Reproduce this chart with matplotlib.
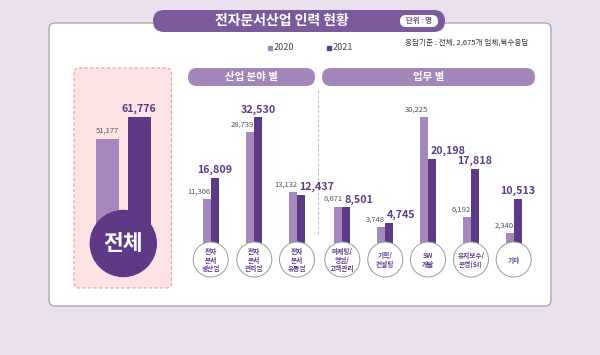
import matplotlib
matplotlib.use('Agg')
import matplotlib.pyplot as plt
from matplotlib.patches import FancyBboxPatch, Circle, Rectangle

plt.rcParams['font.family'] = ['Noto Sans CJK KR', 'DejaVu Sans']

# data
total_2020 = 51177
total_2021 = 61776

ind_labels = ['전자\n문서\n생산업', '전자\n문서\n관리업', '전자\n문서\n유통업']
ind_2020 = [11306, 28739, 13132]
ind_2021 = [16809, 32530, 12437]

job_labels = ['마케팅/\n영업/\n고객관리', '기획/\n컨설팅', 'SW\n개발', '유지보수/\n운영(SI)', '기타']
job_2020 = [8671, 3748, 30225, 6192, 2340]
job_2021 = [8501, 4745, 20198, 17818, 10513]

DARK = '#5e3a86'
LIGHT = '#a487bd'
PILL = '#a386ba'
W, H = 600, 355

fig = plt.figure(figsize=(6, 3.55), dpi=100, facecolor='#ebe0ee')


def px_axes(x0, y0, x1, y1, z=1):
    ax = fig.add_axes([x0 / W, 1 - y1 / H, (x1 - x0) / W, (y1 - y0) / H], zorder=z)
    ax.set_facecolor('none')
    ax.axis('off')
    return ax


def pill(ax, x0, y0, x1, y1, color, r, **kw):
    ax.add_patch(FancyBboxPatch((x0, y0), x1 - x0, y1 - y0,
                                boxstyle='round,pad=0,rounding_size=%g' % r,
                                facecolor=color, **kw))


# background layer, in pixels
bg = px_axes(0, 0, W, H, z=0)
bg.set_xlim(0, W)
bg.set_ylim(H, 0)

pill(bg, 49, 23, 551, 306, 'white', 6, edgecolor='#9a9a9a', lw=0.8)
pill(bg, 153, 10, 445, 32, '#7b5b9c', 11, edgecolor='none')
bg.text(282, 21.5, '전자문서산업 인력 현황', color='white', fontsize=10,
        fontweight='black', ha='center', va='center')
pill(bg, 400, 15, 438, 27, 'white', 6, edgecolor='none')
bg.text(419, 21, '단위 : 명', color='#6b4d8f', fontsize=5.3, fontweight='bold',
        ha='center', va='center')

bg.add_patch(Rectangle((267.5, 46), 4, 4, color=LIGHT))
bg.text(274, 48, '2020', fontsize=6.5, color='#444', va='center')
bg.add_patch(Rectangle((326.5, 46), 4, 4, color=DARK))
bg.text(333, 48, '2021', fontsize=6.5, color='#444', va='center')
bg.text(528, 43, '응답기준 : 전체, 2,675개 업체,복수응답', fontsize=5.5, color='#333',
        ha='right', va='center')

pill(bg, 74, 68, 171.5, 288, '#fde3e3', 5, edgecolor='#e6a0a0', lw=0.8, ls=(0, (3, 2)))
pill(bg, 188, 68, 315, 86, PILL, 9, edgecolor='none')
bg.text(251.5, 77, '산업 분야 별', color='white', fontsize=7.5, fontweight='black',
        ha='center', va='center')
pill(bg, 322, 68, 535, 86, PILL, 9, edgecolor='none')
bg.text(428.5, 77, '업무 별', color='white', fontsize=7.5, fontweight='black',
        ha='center', va='center')
bg.plot([318.3, 318.3], [90, 236], color='#bbbbbb', lw=0.7, ls=(0, (3, 2)))


def label_2020(ax, x, v):
    ax.annotate(f'{v:,}', (x, v), xytext=(0, 2.5), textcoords='offset points',
                ha='right', va='bottom', fontsize=5.5, color='#555')


def label_2021(ax, x, v, ha, dx):
    ax.annotate(f'{v:,}', (x, v), xytext=(dx, 2), textcoords='offset points',
                ha=ha, va='bottom', fontsize=7.7, fontweight='black', color=DARK)


# total
ax_t = px_axes(91.6, 117, 155.0, 243, z=1)
ax_t.set_xlim(-0.5, 1.5)
ax_t.set_ylim(0, total_2021)
tw = 0.735
ax_t.bar([0], [total_2020], width=tw, color=LIGHT)
ax_t.bar([1], [total_2021], width=tw, color=DARK)
label_2020(ax_t, 0 + tw / 2, total_2020)
label_2021(ax_t, 1, total_2021, 'center', 0)

# industry
bw = 0.186
ax_i = px_axes(189.1, 117.3, 318.6, 242.5, z=1)
ax_i.set_xlim(-0.5, 2.5)
ax_i.set_ylim(0, max(ind_2021))
xi = list(range(len(ind_labels)))
ax_i.bar([x - bw / 2 for x in xi], ind_2020, width=bw, color=LIGHT)
ax_i.bar([x + bw / 2 for x in xi], ind_2021, width=bw, color=DARK)
ind_ha = ['center', 'center', 'left']
for x, a, b, ha in zip(xi, ind_2020, ind_2021, ind_ha):
    label_2020(ax_i, x, a)
    if ha == 'left':
        label_2021(ax_i, x, b, 'left', 1.5)
    else:
        label_2021(ax_i, x + bw / 2, b, 'center', 0)

# job
ax_j = px_axes(320.9, 117.3, 535.1, 242.5, z=1)
ax_j.set_xlim(-0.5, 4.5)
ax_j.set_ylim(0, max(job_2020))
xj = list(range(len(job_labels)))
ax_j.bar([x - bw / 2 for x in xj], job_2020, width=bw, color=LIGHT)
ax_j.bar([x + bw / 2 for x in xj], job_2021, width=bw, color=DARK)
job_ha = ['left', 'left', 'left', 'center', 'center']
for x, a, b, ha in zip(xj, job_2020, job_2021, job_ha):
    label_2020(ax_j, x, a)
    if ha == 'left':
        label_2021(ax_j, x, b, 'left', 1.5)
    else:
        label_2021(ax_j, x + bw / 2, b, 'center', 0)

# foreground circles
fg = px_axes(0, 0, W, H, z=2)
fg.set_xlim(0, W)
fg.set_ylim(H, 0)
fg.add_patch(Circle((123.3, 243.5), 33, color=DARK))
fg.text(123.3, 244, '전체', color='white', fontsize=15.5, fontweight='black',
        ha='center', va='center')

centers = [210.7, 254.3, 297.0, 342.3, 385.3, 428.0, 471.0, 513.7]
for cx, lab in zip(centers, ind_labels + job_labels):
    fg.add_patch(Circle((cx, 259.5), 17.5, facecolor='white', edgecolor='#9a9a9a', lw=0.7))
    fg.text(cx, 260, lab, color=DARK, fontsize=4.8, fontweight='bold',
            ha='center', va='center', linespacing=1.3)

fig.savefig('out.png', dpi=100, facecolor=fig.get_facecolor())
